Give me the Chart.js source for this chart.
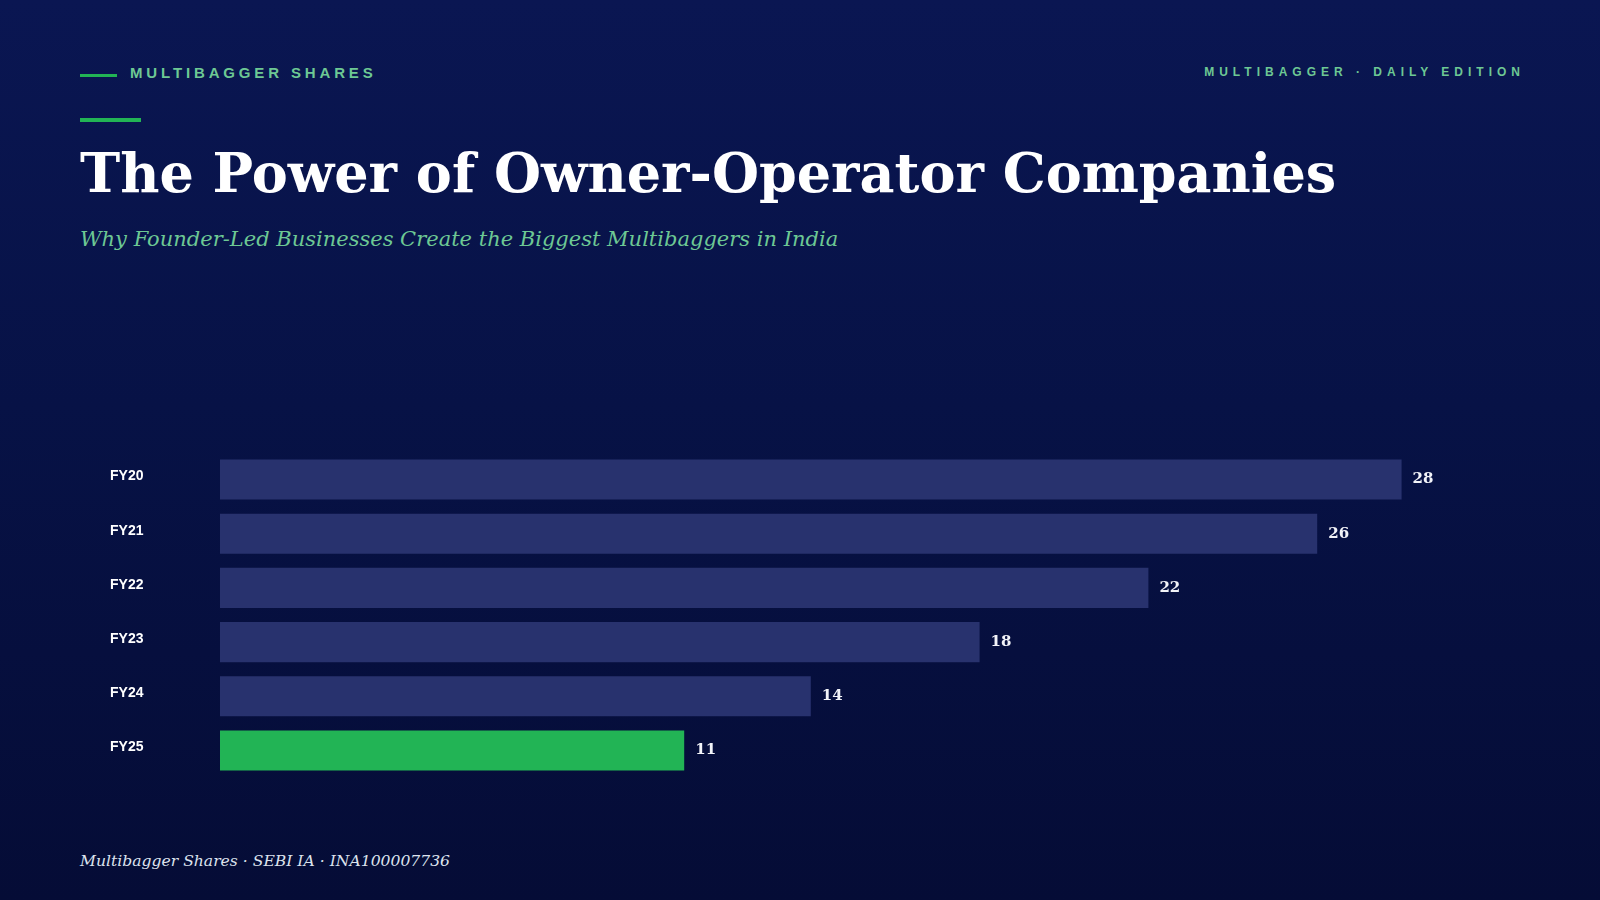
<!DOCTYPE html>
<html>
<head>
<meta charset="utf-8">
<title>The Power of Owner-Operator Companies</title>
<script src="https://cdn.jsdelivr.net/npm/chart.js@4.4.1/dist/chart.umd.min.js"></script>
<style>
  html, body {
    margin: 0;
    padding: 0;
    width: 1600px;
    height: 900px;
    overflow: hidden;
  }
  body {
    background: linear-gradient(180deg, #0a1652 0%, #071246 45%, #050c36 100%);
    position: relative;
    font-family: "Liberation Sans", Arial, sans-serif;
  }
  .eyebrow-rule {
    position: absolute;
    left: 80px;
    top: 74px;
    width: 37px;
    height: 3px;
    background: #22b455;
  }
  .eyebrow {
    position: absolute;
    left: 130px;
    top: 64px;
    font-size: 15px;
    font-weight: bold;
    letter-spacing: 3.85px;
    color: #6dc894;
    line-height: 18px;
  }
  .edition {
    position: absolute;
    right: 75px;
    top: 65px;
    font-size: 12px;
    font-weight: bold;
    letter-spacing: 5px;
    color: #6dc894;
    line-height: 14px;
  }
  .accent {
    position: absolute;
    left: 80px;
    top: 118px;
    width: 61px;
    height: 4px;
    background: #22b455;
  }
  h1 {
    position: absolute;
    left: 80px;
    top: 138px;
    margin: 0;
    font-family: "DejaVu Serif", Georgia, serif;
    font-weight: bold;
    font-size: 54px;
    line-height: 70px;
    color: #ffffff;
    white-space: nowrap;
  }
  .subtitle {
    position: absolute;
    left: 80px;
    top: 224px;
    font-family: "DejaVu Serif", Georgia, serif;
    font-style: italic;
    font-size: 21px;
    line-height: 30px;
    color: #6dc894;
    white-space: nowrap;
  }
  .chart-box {
    position: absolute;
    left: 110px;
    top: 444px;
    width: 1376px;
    height: 342px;
  }
  .footer {
    position: absolute;
    left: 80px;
    top: 849px;
    font-family: "DejaVu Serif", Georgia, serif;
    font-style: italic;
    font-size: 15.6px;
    line-height: 24px;
    color: #dde3ee;
    white-space: nowrap;
  }
</style>
</head>
<body>
  <div class="eyebrow-rule"></div>
  <div class="eyebrow">MULTIBAGGER SHARES</div>
  <div class="edition">MULTIBAGGER · DAILY EDITION</div>
  <div class="accent"></div>
  <h1>The Power of Owner-Operator Companies</h1>
  <div class="subtitle">Why Founder-Led Businesses Create the Biggest Multibaggers in India</div>
  <div class="chart-box"><canvas id="barChart"></canvas></div>
  <div class="footer">Multibagger Shares · SEBI IA · INA100007736</div>

<script>
const years = ['FY20', 'FY21', 'FY22', 'FY23', 'FY24', 'FY25'];
const values = [28, 26, 22, 18, 14, 11];
const highlightYear = 'FY25';

const barColors = years.map(y => y === highlightYear ? '#22b455' : '#28326e');

// write the value just past the end of each bar
const valueLabels = {
  id: 'valueLabels',
  afterDatasetsDraw(chart) {
    const ctx = chart.ctx;
    const meta = chart.getDatasetMeta(0);
    ctx.save();
    ctx.font = 'bold 15px "DejaVu Serif", Georgia, serif';
    ctx.fillStyle = '#f2f3f8';
    ctx.textAlign = 'left';
    ctx.textBaseline = 'middle';
    meta.data.forEach((bar, i) => {
      ctx.fillText(values[i], bar.x + 11, bar.y);
    });
    ctx.restore();
  }
};

const ctx = document.getElementById('barChart').getContext('2d');
new Chart(ctx, {
  type: 'bar',
  data: {
    labels: years,
    datasets: [{
      data: values,
      backgroundColor: barColors,
      borderWidth: 0,
      categoryPercentage: 0.74,
      barPercentage: 1
    }]
  },
  options: {
    indexAxis: 'y',
    responsive: true,
    maintainAspectRatio: false,
    animation: false,
    layout: { padding: 0 },
    plugins: {
      legend: { display: false },
      tooltip: { enabled: false }
    },
    scales: {
      x: {
        display: false,
        min: 0,
        max: 30
      },
      y: {
        grid: { display: false },
        border: { display: false },
        afterFit: scale => { scale.width = 110; },
        ticks: {
          color: '#ffffff',
          crossAlign: 'far',
          padding: 0,
          labelOffset: -3,
          font: { family: '"Liberation Sans", Arial, sans-serif', weight: 'bold', size: 14 }
        }
      }
    }
  },
  plugins: [valueLabels]
});
</script>
</body>
</html>
